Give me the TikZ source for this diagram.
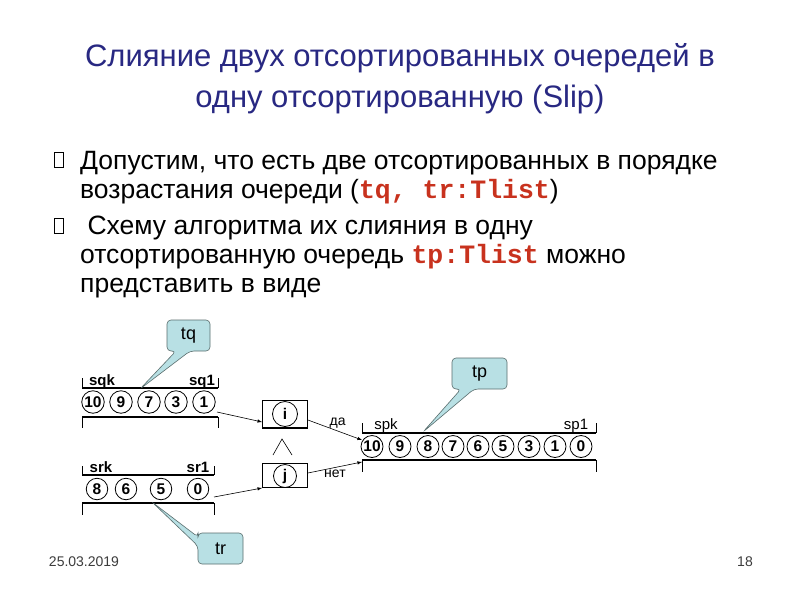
\documentclass[tikz,border=0pt]{standalone}
\usepackage{fontspec}
\setmainfont{Liberation Sans}
\newfontfamily\monofont{Liberation Mono}
\begin{document}
\begin{tikzpicture}[x=1pt,y=-1pt,
  titletext/.style={font=\fontsize{31}{34}\selectfont, text=titleblue, inner sep=0pt},
  bodytext/.style={font=\fontsize{26.5}{30}\selectfont, anchor=base west, inner sep=0pt},
  ball/.style={circle, draw, line width=0.8pt, minimum size=22.5pt, inner sep=0pt, font=\bfseries\fontsize{15.5}{15.5}\selectfont},
  smallball/.style={circle, draw, line width=0.8pt, minimum size=21.5pt, inner sep=0pt, font=\bfseries\fontsize{15.5}{15.5}\selectfont},
  qlabel/.style={font=\bfseries\fontsize{15}{15}\selectfont, inner sep=0pt, anchor=base},
  bar/.style={line width=1.2pt},
  tick/.style={line width=0.6pt},
  call/.style={draw=calloutborder, fill=calloutfill, line width=0.6pt, rounded corners=4pt},
  calltext/.style={font=\fontsize{18}{18}\selectfont, inner sep=0pt},
  arr/.style={-latex, line width=0.6pt},
  gatebox/.style={draw, line width=0.8pt, minimum width=45pt, minimum height=27pt, inner sep=0pt},
  bulletbox/.style={draw, line width=0.5pt, minimum width=9pt, minimum height=15pt, inner sep=0pt},
  foot/.style={font=\fontsize{14}{14}\selectfont, text=footgray, inner sep=0pt, anchor=base}
]
\definecolor{titleblue}{RGB}{40,40,130}
\definecolor{codered}{RGB}{200,50,30}
\definecolor{calloutfill}{RGB}{184,224,228}
\definecolor{calloutborder}{RGB}{90,110,110}
\definecolor{footgray}{RGB}{60,60,60}
\useasboundingbox (0,0) rectangle (800,600);
\fill[white] (0,0) rectangle (800,600);

% title
\node[titletext, anchor=base] (t1) at (400,66) {Слияние двух отсортированных очередей в};
\node[titletext, anchor=base] (t2) at (400,107) {одну отсортированную (Slip)};

% bullets
\node[bulletbox] (b1) at (59,160) {};
\node[bulletbox] (b2) at (59,226) {};
\node[bodytext] (l1) at (80,169) {Допустим, что есть две отсортированных в порядке};
\node[bodytext] (l2) at (80,198) {возрастания очереди ({\monofont\bfseries\color{codered}tq, tr:Tlist})};
\node[bodytext] (l3) at (80,234) {\ Схему алгоритма их слияния в одну};
\node[bodytext] (l4) at (80,263) {отсортированную очередь {\monofont\bfseries\color{codered}tp:Tlist} можно};
\node[bodytext] (l5) at (80,292) {представить в виде};

% queue tq
\draw[bar] (82,388) -- (218,388);
\draw[tick] (82,378) -- (82,388) (218,378) -- (218,388);
\draw[bar] (82,417) -- (218,417);
\draw[tick] (82,417) -- (82,428) (218,417) -- (218,428);
\node[qlabel] (sqk) at (102,385) {sqk};
\node[qlabel] (sq1) at (202,385) {sq1};
\node[ball] (q10) at (93,402) {10};
\node[ball] (q9) at (121,402) {9};
\node[ball] (q7) at (149,402) {7};
\node[ball] (q3) at (176,402) {3};
\node[ball] (q1) at (204,402) {1};

% queue tr
\draw[bar] (82,475) -- (214,475);
\draw[tick] (82,466) -- (82,475) (214,466) -- (214,475);
\draw[bar] (82,503) -- (214,503);
\draw[tick] (82,503) -- (82,515) (214,503) -- (214,515);
\node[qlabel] (srk) at (101,472) {srk};
\node[qlabel] (sr1) at (198,472) {sr1};
\node[smallball] (r8) at (97,489) {8};
\node[smallball] (r6) at (126,489) {6};
\node[smallball] (r5) at (161,489) {5};
\node[smallball] (r0) at (198,489) {0};

% gate boxes
\node[gatebox] (gi) at (285,414) {};
\draw[line width=1.4pt] (gi.south west) -- (gi.south east);
\node[circle, draw, line width=0.8pt, minimum size=25pt, inner sep=0pt, font=\bfseries\fontsize{15.5}{15.5}\selectfont] (ci) at (285,414) {i};
\node[gatebox, minimum height=24pt] (gj) at (285,475) {};
\draw[line width=1.4pt] (gj.south west) -- (gj.south east);
\node[circle, draw, line width=0.8pt, minimum size=23pt, inner sep=0pt, font=\bfseries\fontsize{15.5}{15.5}\selectfont] (cj) at (285,476) {j};
\coordinate (wl) at (273,455);
\coordinate (wt) at (282,439);
\coordinate (wr) at (292,455);
\draw[line width=0.6pt] (wl) -- (wt) -- (wr);

% queue tp
\draw[bar] (362,433) -- (596,433);
\draw[tick] (362,423) -- (362,433) (596,423) -- (596,433);
\draw[bar] (362,460) -- (596,460);
\draw[tick] (362,460) -- (362,472) (596,460) -- (596,472);
\node[qlabel, font=\fontsize{15}{15}\selectfont] (spk) at (386,429) {spk};
\node[qlabel, font=\fontsize{15}{15}\selectfont] (sp1) at (576,429) {sp1};
\foreach \v/\x [count=\k] in {10/372,9/400,8/428,7/453,6/478,5/503,3/529,1/555,0/581}{
  \node[ball, minimum size=22pt] (p\k) at (\x,446.5) {\v};
}

% arrows
\coordinate (qa) at (217,412);
\coordinate (ra) at (214,497);
\coordinate (pin) at (362,440);
\coordinate (pjn) at (362,462);
\draw[arr] (qa) -- (gi.west |- 0,422);
\draw[arr] (ra) -- (gj.west |- 0,488);
\draw[arr] (gi.east |- 0,420) -- (pin) node[pos=0.55, above, font=\fontsize{14}{14}\selectfont, inner sep=2pt] (da) {да};
\draw[arr] (gj.east |- 0,473) -- (pjn) node[pos=0.5, below, font=\fontsize{14}{14}\selectfont, inner sep=2pt] (net) {нет};

% callouts
\coordinate (tqtip) at (140,389);
\draw[call] (167,320) -- (210,320) -- (210,351) -- (190,351) -- (tqtip) -- (176,351) -- (167,351) -- cycle;
\node[calltext] (tq) at (188.5,336) {tq};

\coordinate (tptip) at (423,432);
\draw[call] (452,358) -- (507,358) -- (507,389) -- (474,389) -- (tptip) -- (461,389) -- (452,389) -- cycle;
\node[calltext] (tp) at (479.5,374) {tp};

\coordinate (trtip) at (152,502);
\draw[call] (198,533) -- (208,533) -- (243,533) -- (243,564) -- (198,564) -- (198,546) -- (trtip) -- (198,537) -- cycle;
\node[calltext] (tr) at (220.5,549) {tr};

% footer
\node[foot] (date) at (84,566) {25.03.2019};
\node[foot] (page) at (745,566) {18};
\end{tikzpicture}
\end{document}
